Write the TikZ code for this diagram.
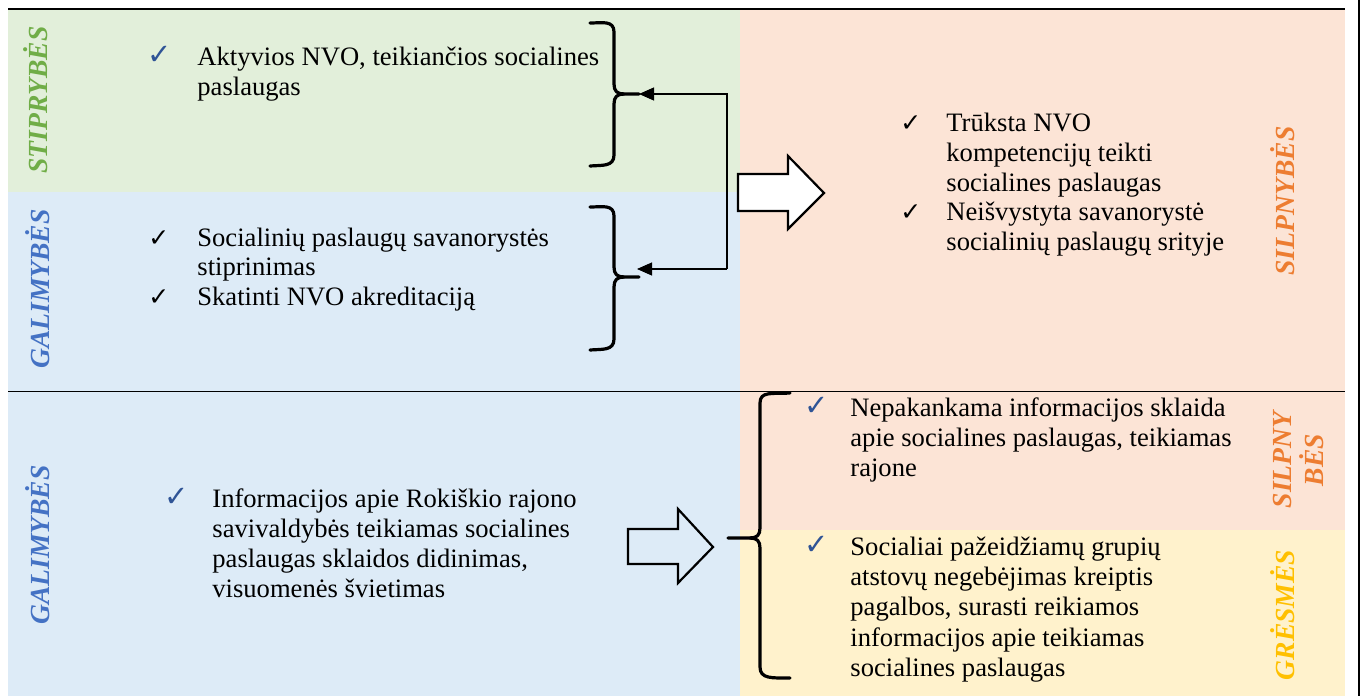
\documentclass[tikz,border=0pt]{standalone}
\usepackage{fontspec}
\setmainfont{Liberation Serif}
\newfontfamily\symfont{DejaVu Sans}
\usetikzlibrary{arrows.meta}
\definecolor{bggreen}{HTML}{E2EFDA}
\definecolor{bgblue}{HTML}{DDEBF7}
\definecolor{bgpink}{HTML}{FCE4D6}
\definecolor{bgyellow}{HTML}{FFF2CC}
\definecolor{labgreen}{HTML}{70AD47}
\definecolor{labblue}{HTML}{4472C4}
\definecolor{laborange}{HTML}{ED7D31}
\definecolor{labgold}{HTML}{FFC000}
\definecolor{checkblue}{HTML}{2F5496}
\begin{document}
\begin{tikzpicture}[x=0.5pt,y=-0.5pt,
  txt/.style={anchor=base west, inner sep=0pt, font=\fontsize{13.3}{15}\selectfont},
  chk/.style={anchor=base west, inner sep=0pt, font=\symfont\fontsize{14.5}{16}\selectfont, text=checkblue},
  chkk/.style={chk, text=black, font=\symfont\fontsize{12.5}{16}\selectfont},
  lab/.style={rotate=90, inner sep=0pt, align=center, font=\fontsize{13.8}{16}\selectfont\bfseries\itshape},
  bracepath/.style={line width=1.6pt, line cap=round, line join=round},
  conn/.style={line width=0.55pt},
  blockarrow/.style={line width=1.1pt, line join=miter}]
\useasboundingbox (0,0) rectangle (1364,696);
% backgrounds
\fill[bggreen] (8,9) rectangle (740,192);
\fill[bgblue] (8,192) rectangle (740,391);
\fill[bgpink] (740,9) rectangle (1345,391);
\fill[bgblue] (8,391) rectangle (740,696);
\fill[bgpink] (740,391) rectangle (1345,530);
\fill[bgyellow] (740,530) rectangle (1345,696);
% rules
\draw[line width=1.1pt] (8,9) -- (1345,9);
\draw[line width=0.8pt] (8,391.5) -- (1345,391.5);
\draw[line width=1.3pt] (1359,0) -- (1359,696);
% side labels
\node[lab, text=labgreen] (lS) at (36,100) {STIPRYBĖS};
\node[lab, text=labblue] (lG1) at (38,289) {GALIMYBĖS};
\node[lab, text=labblue] (lG2) at (38,545) {GALIMYBĖS};
\node[lab, text=laborange] (lW1) at (1283,201) {SILPNYBĖS};
\node[lab, text=laborange] (lW2) at (1298,460) {SILPNY\\BĖS};
\node[lab, text=labgold] (lT) at (1283,615) {GRĖSMĖS};
% block 1
\node[chk] (c1) at (147,64) {✓};
\node[txt] (t1a) at (197,65) {Aktyvios NVO, teikiančios socialines};
\node[txt] (t1b) at (197,95) {paslaugas};
% block 2
\node[chkk] (c2a) at (148,246) {✓};
\node[txt] (t2a) at (197,246) {Socialinių paslaugų savanorystės};
\node[txt] (t2b) at (197,275) {stiprinimas};
\node[chkk] (c2b) at (148,305) {✓};
\node[txt] (t2c) at (197,305) {Skatinti NVO akreditaciją};
% block 3
\node[chkk] (c3a) at (900,131) {✓};
\node[txt] (t3a) at (946,131) {Trūksta NVO};
\node[txt] (t3b) at (946,161) {kompetencijų teikti};
\node[txt] (t3c) at (946,191) {socialines paslaugas};
\node[chkk] (c3b) at (900,220) {✓};
\node[txt] (t3d) at (946,220) {Neišvystyta savanorystė};
\node[txt] (t3e) at (946,250) {socialinių paslaugų srityje};
% block 4
\node[chk] (c4) at (164,506) {✓};
\node[txt] (t4a) at (212,507) {Informacijos apie Rokiškio rajono};
\node[txt] (t4b) at (212,537) {savivaldybės teikiamas socialines};
\node[txt] (t4c) at (212,567) {paslaugas sklaidos didinimas,};
\node[txt] (t4d) at (212,597) {visuomenės švietimas};
% block 5
\node[chk] (c5) at (804,415) {✓};
\node[txt] (t5a) at (850,416) {Nepakankama informacijos sklaida};
\node[txt] (t5b) at (850,446) {apie socialines paslaugas, teikiamas};
\node[txt] (t5c) at (850,476) {rajone};
% block 6
\node[chk] (c6) at (804,554) {✓};
\node[txt] (t6a) at (850,555) {Socialiai pažeidžiamų grupių};
\node[txt] (t6b) at (850,585) {atstovų negebėjimas kreiptis};
\node[txt] (t6c) at (850,615) {pagalbos, surasti reikiamos};
\node[txt] (t6d) at (850,646) {informacijos apie teikiamas};
\node[txt] (t6e) at (850,676) {socialines paslaugas};
% braces
\coordinate (b1tip) at (639,94);
\coordinate (b2tip) at (639,277);
\draw[bracepath] (590,23) .. controls (602,23) and (614,20) .. (614,32) -- (614,84) .. controls (614,91) and (617,94) .. (624,94) -- (b1tip);
\draw[bracepath] (624,94) .. controls (617,94) and (614,97) .. (614,104) -- (614,155) .. controls (614,167) and (602,165) .. (590,166);
\draw[bracepath] (590,207) .. controls (602,207) and (614,204) .. (614,216) -- (614,267) .. controls (614,274) and (617,277) .. (624,277) -- (b2tip);
\draw[bracepath] (624,277) .. controls (617,277) and (614,280) .. (614,287) -- (614,339) .. controls (614,351) and (602,349) .. (590,350);
\coordinate (b3tip) at (728,538);
\draw[bracepath] (790,393) .. controls (772,394) and (760,391) .. (760,403) -- (760,528) .. controls (760,535) and (757,538) .. (750,538) -- (b3tip);
\draw[bracepath] (750,538) .. controls (757,538) and (760,541) .. (760,548) -- (760,667) .. controls (760,679) and (772,678) .. (790,678);
% connectors
\coordinate (j1) at (727,94);
\coordinate (j2) at (727,269);
\coordinate (a2) at (637,269);
\draw[conn, -{Triangle[length=7.5pt,width=6.5pt]}] (j2) -- (j1) -- (b1tip);
\draw[conn, -{Triangle[length=7.5pt,width=6.5pt]}] (j2) -- (a2);
% block arrows
\draw[blockarrow, fill=white] (738,174) -- (788,174) -- (788,156) -- (824,193) -- (788,229) -- (788,211) -- (738,211) -- cycle;
\draw[blockarrow] (628,529) -- (678,529) -- (678,509) -- (713,547) -- (678,583) -- (678,564) -- (628,564) -- cycle;
\end{tikzpicture}
\end{document}
